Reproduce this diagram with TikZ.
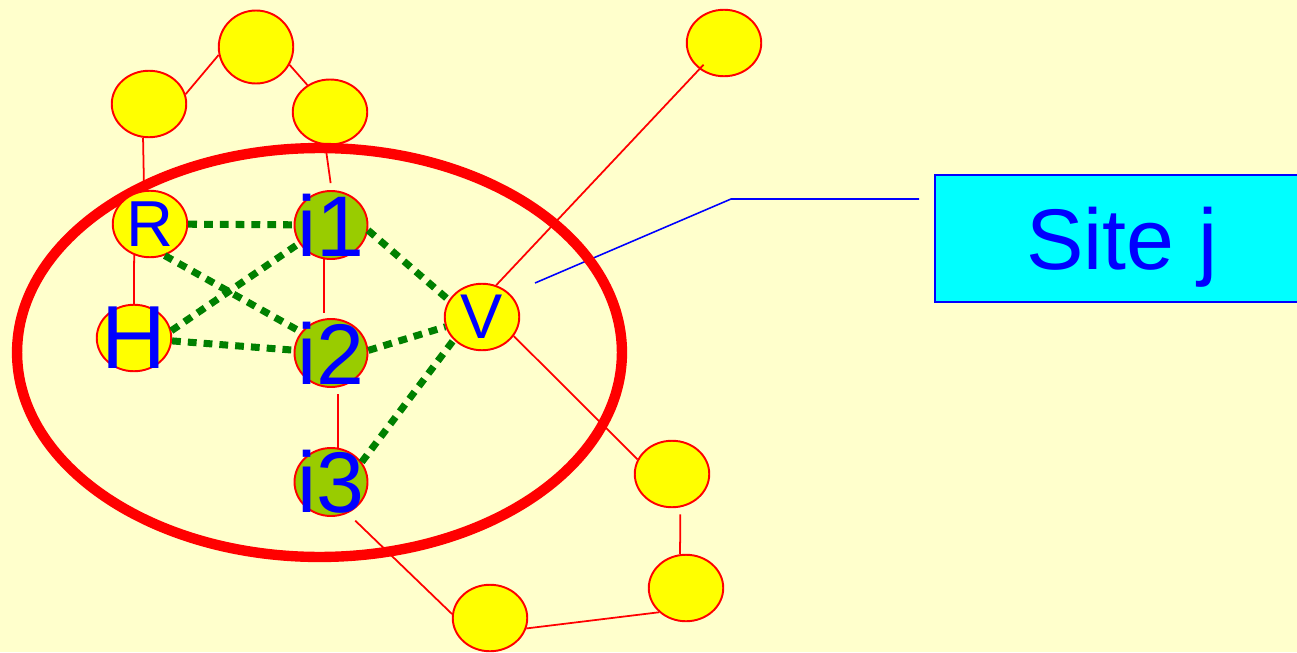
\documentclass[tikz,border=0pt]{standalone}
\usepackage{fontspec}
\setmainfont{Liberation Sans}
\usepackage{tikz}
\usetikzlibrary{shapes.geometric}
\definecolor{paper}{RGB}{255,255,204}
\definecolor{peerfill}{RGB}{255,255,0}
\definecolor{memberfill}{RGB}{153,204,0}
\definecolor{sitefill}{RGB}{0,255,255}
\definecolor{dotgreen}{RGB}{0,128,0}
\tikzset{
  peer/.style={ellipse, draw=red, line width=1.1pt, fill=peerfill, inner sep=0pt,
    minimum width=1.49cm, minimum height=1.33cm},
  member/.style={peer, fill=memberfill, minimum width=1.46cm, minimum height=1.36cm},
  lbl/.style={text=blue, inner sep=0pt, font=\fontsize{37}{40}\selectfont},
  biglbl/.style={lbl, font=\fontsize{49}{52}\selectfont},
  ring/.style={ellipse, draw=red, line width=5.9pt, inner sep=0pt,
    minimum width=12.1cm, minimum height=8.18cm},
  sitebox/.style={draw=blue, line width=1.2pt, fill=sitefill, text=blue, text depth=0pt,
    minimum width=7.48cm, minimum height=2.54cm, font=\fontsize{49}{50}\selectfont},
  wire/.style={draw=red, line width=1pt},
  hop/.style={draw=dotgreen, line width=4pt, dash pattern=on 5pt off 4pt},
  callout/.style={draw=blue, line width=0.9pt}
}

\begin{document}
\begin{tikzpicture}[x=0.02cm, y=-0.02cm]
  \useasboundingbox (0,0) rectangle (1297,652);
  \fill[paper] (0,0) rectangle (1297,652);

  \node[sitebox] (site) at (1122,238.5) {Site j};

  % nodes outside the site
  \node[peer] (A) at (149,104) {};
  \node[peer, minimum height=1.46cm] (B) at (256,47) {};
  \node[peer, minimum height=1.3cm] (C) at (330,112) {};
  \node[peer] (D) at (724,43) {};
  \node[peer] (E) at (672,474) {};
  \node[peer] (F) at (686,588) {};
  \node[peer] (G) at (490,618) {};

  \coordinate (vtip) at (535,283);
  \coordinate (bend) at (731,199);
  \draw[callout, shorten >=8.5pt] (vtip) -- (bend) -- (bend -| site.west);

  \node[ring] (cluster) at (319.5,352.5) {};

  % nodes inside the site
  \node[peer, label={[lbl]center:R}] (R) at (150,224) {};
  \node[peer, label={[biglbl, font=\fontsize{51}{54}\selectfont]center:H}] (H) at (134,338) {};
  \node[peer, label={[lbl, font=\fontsize{36}{40}\selectfont]center:V}] (V) at (482,317) {};
  \node[member, label={[biglbl]center:i1}] (i1) at (331,225) {};
  \node[member, label={[biglbl]center:i2}] (i2) at (331,353) {};
  \node[member, label={[biglbl]center:i3}] (i3) at (331,482) {};

  \draw[wire] (A.260) -- (R.100);
  \draw[wire] (A.15) -- (B.192);
  \draw[wire] (B.-28) -- (C.130);
  \draw[wire, shorten >=4pt] (C.-98) -- (i1.89);
  \draw[wire] (R.-117) -- (H.90);
  \draw[wire, shorten >=3pt] (i1.-101) -- (i2.101);
  \draw[wire, shorten <=4pt] (i2.-79) -- (i3.79);
  \draw[wire, shorten >=17pt] (V.66) -- (D.center);
  \draw[wire] (V.-31) -- (E.157);
  \draw[wire, shorten <=4pt] (E.-76) -- (F.100);
  \draw[wire] (F.-138) -- (G.-16);
  \draw[wire, shorten <=6pt] (i3.-62) -- (G.174);

  \draw[hop] (R) -- (i1);
  \draw[hop] (R.-65) -- (i2.145);
  \draw[hop] (H.11) -- (i1.210);
  \draw[hop] (H) -- (i2);
  \draw[hop] (i1.-8) -- (V.153);
  \draw[hop] (i2.4) -- (V.195);
  \draw[hop] (i3.33) -- (V.219);
\end{tikzpicture}
\end{document}
